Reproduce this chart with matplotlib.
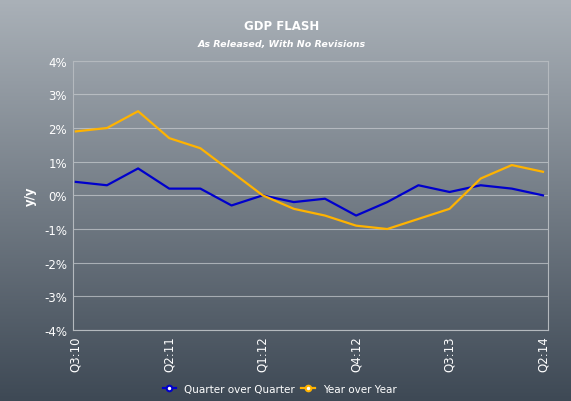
import numpy as np
import matplotlib
matplotlib.use("Agg")
import matplotlib.pyplot as plt
from matplotlib.colors import LinearSegmentedColormap
from matplotlib.lines import Line2D
from matplotlib.ticker import FuncFormatter

# Data
quarters = ["Q3:10", "Q4:10", "Q1:11", "Q2:11", "Q3:11", "Q4:11", "Q1:12", "Q2:12",
            "Q3:12", "Q4:12", "Q1:13", "Q2:13", "Q3:13", "Q4:13", "Q1:14", "Q2:14"]
qoq = [0.4, 0.3, 0.8, 0.2, 0.2, -0.3, 0.0, -0.2, -0.1, -0.6, -0.2, 0.3, 0.1, 0.3, 0.2, 0.0]
yoy = [1.9, 2.0, 2.5, 1.7, 1.4, 0.7, 0.0, -0.4, -0.6, -0.9, -1.0, -0.7, -0.4, 0.5, 0.9, 0.7]
names = ["Quarter over Quarter", "Year over Year"]
colors = ["#0000cc", "#ffb300"]

fig = plt.figure(figsize=(5.71, 4.02), dpi=100)

# gradient background
bg = fig.add_axes([0, 0, 1, 1], zorder=-10)
cmap = LinearSegmentedColormap.from_list("bg", ["#aab1b8", "#3e4955"])
bg.imshow(np.linspace(0, 1, 256).reshape(-1, 1), aspect="auto", cmap=cmap,
          extent=[0, 1, 0, 1])
bg.set_axis_off()

ax = fig.add_axes([0.1273, 0.1766, 0.8329, 0.6699])
ax.set_facecolor("none")
x = np.arange(len(quarters))
ax.plot(x, qoq, color=colors[0], lw=1.6)
ax.plot(x, yoy, color=colors[1], lw=1.6)

ax.set_xlim(-0.1, 15.17)
ax.set_ylim(-4, 4)
ax.set_yticks(range(-4, 5))
ax.yaxis.set_major_formatter(FuncFormatter(lambda v, p: f"{v:.0f}%"))
ax.set_xticks(x[::3])
ax.set_xticklabels(quarters[::3], rotation=90)
ax.tick_params(colors="white", labelsize=8.5, length=0, pad=4)
ax.grid(axis="y", color="#c8ccd0", lw=0.8, alpha=0.7)
for s in ax.spines.values():
    s.set_color("#b4b9be")
    s.set_linewidth(0.8)
ax.set_ylabel("y/y", color="white", fontsize=8.5, fontweight="bold", labelpad=5)

fig.text(0.494, 0.935, "GDP FLASH", color="white", fontsize=8.5,
         fontweight="bold", ha="center", va="center")
fig.text(0.494, 0.89, "As Released, With No Revisions", color="white",
         fontsize=6.8, fontweight="bold", style="italic", ha="center", va="center")

handles = [Line2D([], [], color=c, lw=1.6, marker="o", markersize=4,
                  markerfacecolor="white", markeredgewidth=1.5) for c in colors]
leg = fig.legend(handles, names, loc="center", bbox_to_anchor=(0.49, 0.03), ncol=2,
                 frameon=False, fontsize=7.5, numpoints=1, handlelength=1.3,
                 handletextpad=0.8, columnspacing=0.6)
for t in leg.get_texts():
    t.set_color("white")

fig.savefig("out.png", dpi=100)
